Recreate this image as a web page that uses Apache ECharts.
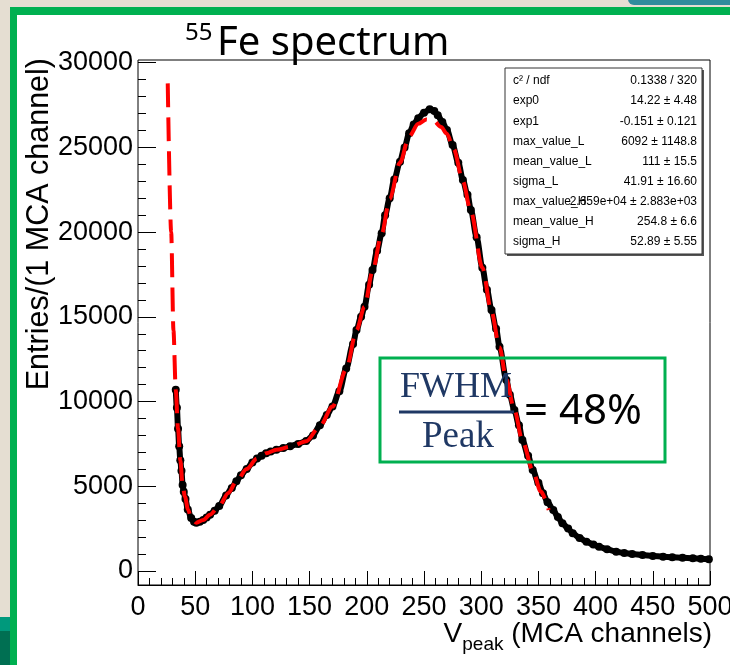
<!DOCTYPE html>
<html>
<head>
<meta charset="utf-8">
<script src="https://cdn.jsdelivr.net/npm/echarts@6/dist/echarts.min.js"></script>
<style>
html, body { margin: 0; padding: 0; background: #fff; }
#chart { width: 730px; height: 665px; }
</style>
</head>
<body>
<div id="chart"></div>
<script>
// measured spectrum (channel, entries)
var dataX = [33, 34, 35, 36, 37, 38, 39, 40, 41.5, 43.5, 46.5, 49, 51, 54, 57, 60, 63, 67, 71, 77,
    82, 86, 90, 95, 100, 104, 108, 112, 116, 121, 127, 133, 140, 147, 153, 159, 165, 170, 176, 182,
    188, 191, 195, 198, 202, 205, 209, 213, 216, 220, 224, 229, 233, 237, 241, 245, 250, 255, 259, 262,
    266, 270, 275, 280, 284, 288, 291, 296, 301, 305, 309, 313, 316, 322, 325, 329, 333, 336, 341, 345,
    350, 354, 358, 363, 367, 371, 376, 380, 386, 392, 398, 403, 410, 418, 425, 432, 441, 450, 459, 467,
    476, 485, 492, 499];
var dataY = [10700, 9630, 8400, 7360, 6530, 5910, 5080, 4670, 4250, 3630, 3120, 2900, 2850, 2900, 3010, 3150, 3320, 3550, 3840, 4460,
    4900, 5290, 5650, 6010, 6400, 6630, 6800, 6950, 7050, 7150, 7250, 7360, 7500, 7670, 8000, 8600, 9200, 9700, 10600, 11950,
    13400, 14220, 15000, 15600, 16900, 17770, 18900, 19930, 21000, 22000, 23100, 24160, 25000, 25830, 26350, 26720, 27050, 27250, 27150, 26900,
    26500, 26030, 25140, 24100, 23080, 22200, 21310, 19700, 17900, 16600, 15400, 14300, 13240, 11270, 10400, 9500, 8600, 7730, 6800, 5960,
    5200, 4590, 4050, 3600, 3180, 2820, 2500, 2230, 1950, 1730, 1560, 1430, 1280, 1140, 1060, 1000, 940, 885, 840, 810,
    780, 750, 720, 690];

// fit curve (red dashed)
var fitX = [26, 29, 31, 33, 35, 37, 39, 41, 43.7, 46.6, 51, 57, 63, 71, 79, 86, 95, 104, 112, 121,
    133, 147, 159, 170, 182, 191, 198, 205, 213, 220, 229, 237, 245, 252, 258, 265, 270, 276, 284, 291,
    301, 309, 316, 322, 329, 336, 345, 352, 359];
var fitY = [28780, 20000, 14200, 10670, 8390, 6530, 5080, 4400, 3630, 3120, 2850, 3010, 3320, 3840, 4600, 5290, 6010, 6630, 6950, 7150,
    7330, 7650, 8550, 9700, 11900, 14200, 15600, 17700, 19900, 21950, 24100, 25650, 26400, 26650, 26600, 26200, 25800, 24900, 23000, 21200,
    17900, 15300, 13200, 11300, 9500, 7700, 5950, 4700, 3600];

// fit statistics box
var statNames = ['c\u00b2 / ndf', 'exp0', 'exp1', 'max_value_L', 'mean_value_L', 'sigma_L', 'max_value_H', 'mean_value_H', 'sigma_H'];
var statValues = ['0.1338 / 320', '14.22 \u00b1 4.48', '-0.151 \u00b1 0.121', '6092 \u00b1 1148.8', '111 \u00b1 15.5',
    '41.91 \u00b1 16.60', '2.659e+04 \u00b1 2.883e+03', '254.8 \u00b1 6.6', '52.89 \u00b1 5.55'];

var chart = echarts.init(document.getElementById('chart'));

function pairs(xs, ys) {
    return xs.map(function (x, i) { return [x, ys[i]]; });
}

var font = 'Liberation Sans';

// slide decoration behind the plot
var graphics = [
    { type: 'rect', z: -10, shape: { x: 0, y: 0, width: 730, height: 665 }, style: { fill: '#e5ded2' } },
    { type: 'rect', z: -9, shape: { x: 10, y: 7, width: 740, height: 680 }, style: { fill: '#00b050' } },
    { type: 'rect', z: -8, shape: { x: 17, y: 15, width: 730, height: 670 }, style: { fill: '#ffffff' } },
    { type: 'rect', z: -7, shape: { x: 628, y: -10, width: 120, height: 15, r: 6 }, style: { fill: '#2f8c9c' } },
    { type: 'rect', z: -7, shape: { x: 0, y: 617, width: 10, height: 14 }, style: { fill: '#00997c' } },
    { type: 'rect', z: -7, shape: { x: 0, y: 631, width: 10, height: 40 }, style: { fill: '#006f52' } },
    // title
    { type: 'text', z: 50, x: 185, y: 33, style: { text: '55', font: '24px "Noto Sans"', fill: '#000', textVerticalAlign: 'middle' } },
    { type: 'text', z: 50, x: 217, y: 44, style: { text: 'Fe spectrum', font: '40px "Noto Sans"', fill: '#000', textVerticalAlign: 'middle' } },
    // y axis title
    { type: 'text', z: 50, x: 40, y: 58, rotation: Math.PI / 2,
      style: { text: 'Entries/(1 MCA channel)', font: '30.5px "' + font + '"', fill: '#000', textAlign: 'right', textVerticalAlign: 'middle' } },
    // x axis title
    { type: 'text', z: 50, x: 712, y: 634,
      style: { text: '{v|V}{s|peak}{n| (MCA channels)}', textAlign: 'right', textVerticalAlign: 'middle',
        rich: {
            v: { fontFamily: font, fontSize: 28, fill: '#000' },
            s: { fontFamily: font, fontSize: 19, fill: '#000', padding: [22, 0, 0, 0] },
            n: { fontFamily: font, fontSize: 28, fill: '#000' }
        } } },
    // stats box
    { type: 'rect', z: 60, shape: { x: 507, y: 70, width: 197, height: 186 }, style: { fill: '#555' } },
    { type: 'rect', z: 61, shape: { x: 505, y: 68, width: 197, height: 186 }, style: { fill: '#fff', stroke: '#333', lineWidth: 1 } },
    // FWHM / Peak box
    { type: 'rect', z: 70, shape: { x: 380, y: 358, width: 285, height: 104 }, style: { fill: 'none', stroke: '#00b050', lineWidth: 3 } },
    { type: 'text', z: 71, x: 456, y: 388, style: { text: 'FWHM', font: '36px "Liberation Serif"', fill: '#1f3864', textAlign: 'center', textVerticalAlign: 'middle' } },
    { type: 'line', z: 71, shape: { x1: 399, y1: 412, x2: 514, y2: 412 }, style: { stroke: '#1f3864', lineWidth: 3 } },
    { type: 'text', z: 71, x: 458, y: 437, style: { text: 'Peak', font: '37px "Liberation Serif"', fill: '#1f3864', textAlign: 'center', textVerticalAlign: 'middle' } },
    { type: 'text', z: 71, x: 524, y: 412, style: { text: '= 48%', font: '42px "Noto Sans"', fill: '#000', textVerticalAlign: 'middle' } }
];

statNames.forEach(function (name, i) {
    var y = 81 + i * 20.1;
    graphics.push({ type: 'text', z: 62, x: 513, y: y, style: { text: name, font: '12px "' + font + '"', fill: '#000', textVerticalAlign: 'middle' } });
    graphics.push({ type: 'text', z: 62, x: 697, y: y, style: { text: statValues[i], font: '12px "' + font + '"', fill: '#000', textAlign: 'right', textVerticalAlign: 'middle' } });
});

var tickStyle = { color: '#000', width: 1 };

var option = {
    animation: false,
    grid: [
        // full frame: data lives here (y from -830 to 30160)
        { left: 138, right: 20, top: 60, bottom: 80, show: true, borderColor: '#000', borderWidth: 1,
          backgroundColor: 'transparent', outerBoundsMode: 'none' },
        // 0..30000 band used for the y ticks and labels
        { left: 138, right: 20, top: 62.7, bottom: 94, show: false, outerBoundsMode: 'none' }
    ],
    xAxis: [
        { gridIndex: 0, type: 'value', min: 0, max: 500, interval: 50,
          axisLine: { show: true, onZero: false, lineStyle: tickStyle },
          axisTick: { inside: true, length: 14, lineStyle: tickStyle },
          minorTick: { show: true, splitNumber: 5, length: 7, lineStyle: tickStyle },
          splitLine: { show: false },
          axisLabel: { margin: 9, fontFamily: font, fontSize: 27, color: '#000',
                       formatter: function (v) { return String(v); } } },
        { gridIndex: 1, type: 'value', min: 0, max: 500, show: false }
    ],
    yAxis: [
        { gridIndex: 0, type: 'value', min: -830, max: 30160, show: false, splitLine: { show: false } },
        { gridIndex: 1, type: 'value', min: 0, max: 30000, interval: 5000,
          axisLine: { show: false },
          axisTick: { inside: true, length: 18, lineStyle: tickStyle },
          minorTick: { show: true, splitNumber: 5, length: 8, lineStyle: tickStyle },
          splitLine: { show: false },
          axisLabel: { margin: 5, fontFamily: font, fontSize: 27, color: '#000',
                       formatter: function (v) { return String(v); } } }
    ],
    series: [
        { name: 'data', type: 'line', xAxisIndex: 0, yAxisIndex: 0, z: 3,
          data: pairs(dataX, dataY),
          symbol: 'circle', symbolSize: 8, showSymbol: true,
          itemStyle: { color: '#000' },
          lineStyle: { color: '#000', width: 6 },
          smooth: 0.3, smoothMonotone: 'x' },
        { name: 'fit', type: 'line', xAxisIndex: 0, yAxisIndex: 0, z: 4,
          data: pairs(fitX, fitY),
          showSymbol: false, symbol: 'none',
          lineStyle: { color: '#ff0000', width: 4, type: [24, 10] },
          smooth: 0.3, smoothMonotone: 'x' }
    ],
    graphic: { elements: graphics }
};

chart.setOption(option);
</script>
</body>
</html>
